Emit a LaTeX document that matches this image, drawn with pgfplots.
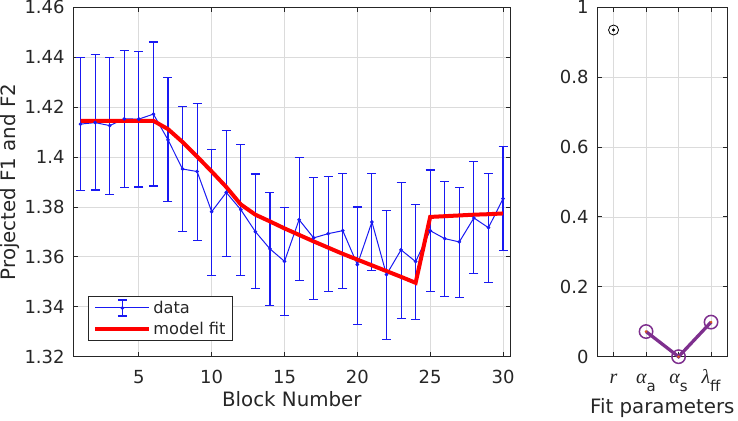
\documentclass[border=0pt]{standalone}
\usepackage{pgfplots}
\pgfplotsset{compat=1.18}
\usepackage{pgfplotstable}
\usepackage{fontspec}
\setmainfont{DejaVu Sans}
\newfontfamily\grk{Liberation Serif}
\definecolor{axgray}{rgb}{0.15,0.15,0.15}
\definecolor{mpurple}{rgb}{0.494,0.184,0.556}
\definecolor{morange}{rgb}{0.85,0.325,0.098}
\definecolor{dblue}{rgb}{0.1,0.1,0.95}

% block, mean, upper error, lower error
\pgfplotstableread{
x y ep em
1 1.4132 0.0266 0.0267
2 1.4138 0.0274 0.0270
3 1.4126 0.0274 0.0276
4 1.4153 0.0274 0.0275
5 1.4152 0.0270 0.0272
6 1.4172 0.0289 0.0288
7 1.4069 0.0251 0.0248
8 1.3952 0.0250 0.0252
9 1.3942 0.0274 0.0277
10 1.3781 0.0251 0.0256
11 1.3858 0.0250 0.0257
12 1.3789 0.0261 0.0265
13 1.3701 0.0231 0.0228
14 1.3632 0.0226 0.0228
15 1.3582 0.0216 0.0216
16 1.3749 0.0248 0.0244
17 1.3676 0.0241 0.0248
18 1.3693 0.0229 0.0232
19 1.3705 0.0229 0.0232
20 1.3569 0.0231 0.0240
21 1.3740 0.0193 0.0194
22 1.3529 0.0257 0.0260
23 1.3628 0.0270 0.0274
24 1.3581 0.0228 0.0231
25 1.3705 0.0243 0.0245
26 1.3673 0.0229 0.0232
27 1.3660 0.0217 0.0224
28 1.3756 0.0225 0.0224
29 1.3717 0.0216 0.0219
30 1.3833 0.0211 0.0209
}\datatab

\pgfplotstableread{
x y
1 1.4145
2 1.4145
3 1.4145
4 1.4145
5 1.4145
6 1.4145
7 1.4112
8 1.4060
9 1.4002
10 1.3942
11 1.3880
12 1.3810
13 1.3769
14 1.3742
15 1.3714
16 1.3688
17 1.3662
18 1.3637
19 1.3612
20 1.3589
21 1.3566
22 1.3543
23 1.3520
24 1.3496
25 1.3760
26 1.3763
27 1.3766
28 1.3769
29 1.3771
30 1.3774
}\modeltab

\begin{document}
\begin{tikzpicture}
\path[use as bounding box] (0,0) rectangle (738pt,420pt);
\pgfplotsset{
  mystyle/.style={
    scale only axis, height=349.4pt, anchor=south west,
    axis line style={axgray, line width=0.9pt},
    tick style={axgray, line width=0.9pt}, major tick length=4.5pt, tick align=inside,
    grid=major, major grid style={gray!28, line width=0.8pt},
    ticklabel style={font=\fontsize{18}{20}\selectfont, text=axgray},
    /pgf/number format/assume math mode=true,
    yticklabel style={inner sep=0pt, anchor=east, xshift=-8.5pt},
    label style={font=\fontsize{19.8}{22}\selectfont, text=axgray, inner sep=0pt},
  }
}
\begin{axis}[mystyle, at={(73.3pt,63.3pt)}, width=437pt,
  xmin=0.5, xmax=30.5, ymin=1.32, ymax=1.46,
  xtick={5,10,15,20,25,30},
  ytick={1.32,1.34,1.36,1.38,1.40,1.42,1.44,1.46},
  yticklabel style={/pgf/number format/.cd, fixed, precision=2},
  xticklabel style={inner sep=0pt, anchor=north, yshift=-13.3pt},
  xlabel={Block Number},
  xlabel style={at={(axis description cs:0.5,0)}, anchor=base, yshift=-50pt},
  ylabel={Projected F1 and F2},
  ylabel style={at={(axis description cs:-0.1323,0.5)}, anchor=base},
  legend cell align=left,
  legend style={at={(0.0336,0.1746)}, anchor=north west, draw=axgray, line width=0.8pt,
    fill=white, font=\fontsize{16.2}{18}\selectfont, text=axgray,
    inner xsep=5pt, inner ysep=3pt, row sep=3pt,
    /tikz/every even column/.append style={column sep=5pt}},
]
\addplot[color=dblue, line width=1pt, mark=*, mark size=1.3pt,
  error bars/.cd, y dir=both, y explicit,
  error mark=-,
  error bar style={color=dblue, solid, line width=1.1pt},
  error mark options={color=dblue, rotate=90, mark size=4.5pt, line width=1.1pt},
  /pgfplots/legend image code/.code={
    \draw[dblue, line width=1pt] (0pt,0pt) -- (54pt,0pt);
    \draw[dblue, line width=1.1pt] (27pt,-8pt) -- (27pt,8pt)
      (22.5pt,-8pt) -- (31.5pt,-8pt) (22.5pt,8pt) -- (31.5pt,8pt);
    \fill[dblue] (27pt,0pt) circle (1.3pt);
  }]
  table[x=x, y=y, y error plus=ep, y error minus=em] {\datatab};
\addlegendentry{data}
\addplot[red, line width=4pt,
  legend image code/.code={\draw[red, line width=4pt] (0pt,0pt) -- (54pt,0pt);}]
  table[x=x, y=y] {\modeltab};
\addlegendentry{model fit}
\end{axis}

\begin{axis}[mystyle, at={(597.3pt,63.3pt)}, width=130pt,
  xmin=0.5, xmax=4.5, ymin=0, ymax=1, clip=false,
  xtick={1,2,3,4},
  xticklabels={{\grk\itshape\fontsize{20}{20}\selectfont r},
    {{\grk\itshape\fontsize{20}{20}\selectfont α}\raisebox{-8.4pt}{\fontsize{15}{15}\selectfont a}},
    {{\grk\itshape\fontsize{20}{20}\selectfont α}\raisebox{-8.4pt}{\fontsize{15}{15}\selectfont s}},
    {{\grk\itshape\fontsize{20}{20}\selectfont λ}\raisebox{-8.4pt}{\fontsize{15}{15}\selectfont ff}}},
  ytick={0,0.2,0.4,0.6,0.8,1},
  xticklabel style={inner sep=0pt, anchor=base, yshift=-26.3pt},
  xlabel={Fit parameters},
  xlabel style={at={(axis description cs:0.5,0)}, anchor=base, yshift=-56.6pt},
]
\addplot[mpurple, line width=3.3pt, mark=o, mark size=6.7pt,
  mark options={line width=1.5pt, fill=none}]
  coordinates {(2,0.072) (3,0) (4,0.099)};
\addplot[only marks, mark=*, morange, mark size=1.1pt]
  coordinates {(2,0.072) (3,0) (4,0.099)};
\addplot[only marks, mark=o, black, mark size=5pt, mark options={line width=0.8pt}]
  coordinates {(1,0.935)};
\addplot[only marks, mark=*, black, mark size=1.3pt]
  coordinates {(1,0.935)};
\end{axis}
\end{tikzpicture}
\end{document}
